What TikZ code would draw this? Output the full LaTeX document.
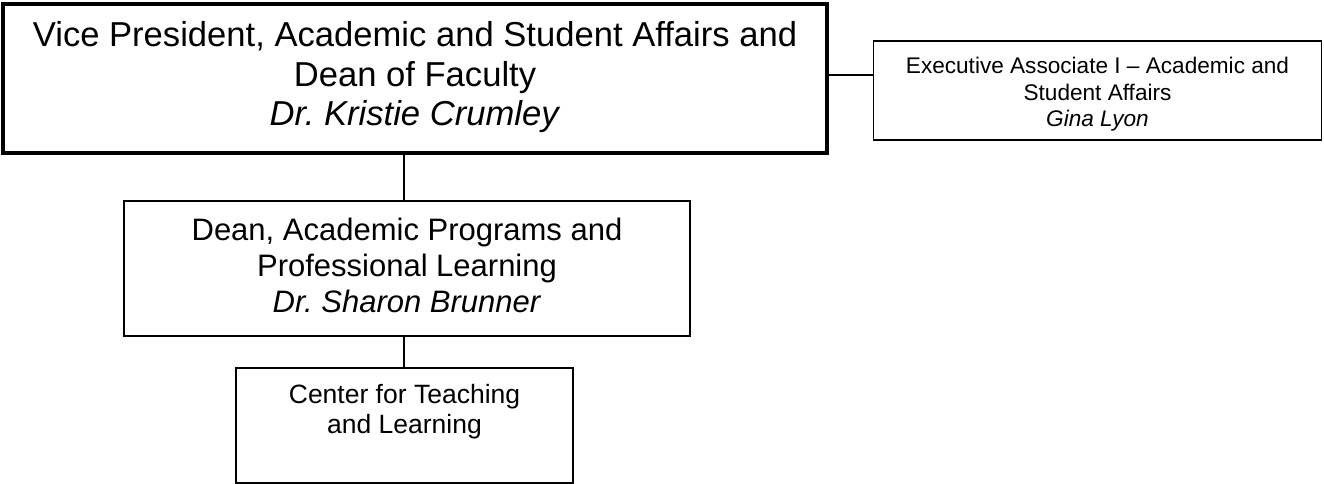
\documentclass[tikz,border=0pt]{standalone}
\usepackage{fontspec}
\setmainfont{Liberation Sans}
\frenchspacing
\begin{document}
\begin{tikzpicture}[x=1pt,y=-1pt,
  box/.style={draw=black,fill=white,inner sep=0pt,line width=1.4pt},
  txt/.style={align=center,inner sep=0pt},
  conn/.style={draw=black,line width=1.3pt}]
\useasboundingbox[fill=white] (0,0) rectangle (1324,484);
% boxes
\node[box,line width=4pt,minimum width=824pt,minimum height=149pt] (vp) at (415,78.5) {};
\node[box,minimum width=448pt,minimum height=99pt] (ea) at (1097.5,90.5) {};
\node[box,minimum width=566pt,minimum height=135pt] (dean) at (407,268.5) {};
\node[box,line width=2pt,minimum width=337pt,minimum height=115pt] (ctl) at (404.5,425.5) {};
% texts
\node[txt,font=\fontsize{34.6}{39.5}\selectfont,yshift=1pt] (vpt) at (vp.center)
  {Vice President, Academic and Student Affairs and\\Dean of Faculty\\\textit{Dr. Kristie Crumley}};
\node[txt,font=\fontsize{22.6}{26.5}\selectfont,yshift=-4pt] (eat) at (ea.center)
  {Executive Associate I -- Academic and\\Student Affairs\\\textit{Gina Lyon}};
\node[txt,font=\fontsize{31}{36}\selectfont,yshift=3pt] (deant) at (dean.center)
  {Dean, Academic Programs and\\Professional Learning\\\textit{Dr. Sharon Brunner}};
\node[txt,font=\fontsize{26.5}{30}\selectfont,yshift=-3pt] (ctlt) at (ctl.center)
  {Center for Teaching\\and Learning\\\strut};
% connectors
\coordinate (h) at (850,75);
\coordinate (v) at (404,0);
\draw[conn] (h -| vp.east) -- (h -| ea.west);
\draw[conn] (v |- vp.south) -- (v |- dean.north);
\draw[conn] (v |- dean.south) -- (v |- ctl.north);
\end{tikzpicture}
\end{document}
